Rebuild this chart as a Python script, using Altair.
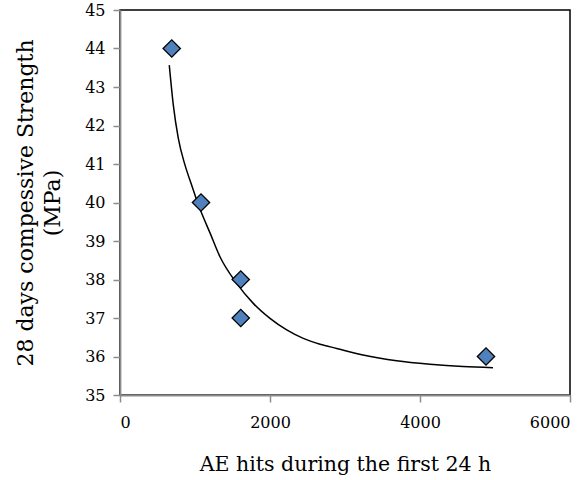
import altair as alt
import pandas as pd

hits = [690, 1080, 1610, 1610, 4880]
strength = [44, 40, 38, 37, 36]

curve_x = [657, 711, 777, 867, 956, 1044, 1089, 1200, 1333, 1556, 1777, 2000, 2223, 2444, 2667, 2889, 3240, 3689, 4133, 4573, 4973]
curve_y = [43.57, 42.53, 41.67, 40.97, 40.45, 39.94, 39.72, 39.21, 38.59, 37.90, 37.38, 36.99, 36.69, 36.47, 36.32, 36.21, 36.04, 35.89, 35.80, 35.74, 35.71]

pts = pd.DataFrame({"x": hits, "y": strength})
cur = pd.DataFrame({"x": curve_x, "y": curve_y})

FONT = "DejaVu Serif"

common = dict(grid=False, domainColor="#8c8c8c", tickColor="#8c8c8c", domainWidth=1.8, tickWidth=1.5,
              tickSize=7, labelFontSize=16,
              labelFont=FONT, titleFont=FONT, labelColor="black",
              titleColor="black", titleFontWeight="normal", labelOverlap=False, format="d")

xenc = alt.X("x:Q", scale=alt.Scale(domain=[0, 6000], nice=False),
             axis=alt.Axis(values=[0, 2000, 4000, 6000], title="AE hits during the first 24 h",
                           labelPadding=12, titlePadding=24, titleFontSize=20.5, **common))
yenc = alt.Y("y:Q", scale=alt.Scale(domain=[35, 45], nice=False, zero=False),
             axis=alt.Axis(values=list(range(35, 46)), title=["28 days compessive Strength", "(MPa)"],
                           labelPadding=8, titlePadding=20, titleFontSize=22, titleLineHeight=27, **common))

line = alt.Chart(cur).mark_line(color="black", strokeWidth=1.5, interpolate="monotone").encode(x=xenc, y=yenc)
points = alt.Chart(pts).mark_point(shape="diamond", filled=True, fill="#4F81BD",
                                   stroke="black", strokeWidth=1.3, size=300, opacity=1).encode(x=xenc, y=yenc)

chart = alt.layer(line, points).properties(
    width=450, height=385, background="white",
    autosize=alt.AutoSizeParams(type="none"),
    padding={"left": 120, "top": 10, "right": 8, "bottom": 85},
).configure_view(stroke="black", strokeWidth=1.5)

chart.save("out.html", embed_options={"renderer": "svg", "actions": False})
